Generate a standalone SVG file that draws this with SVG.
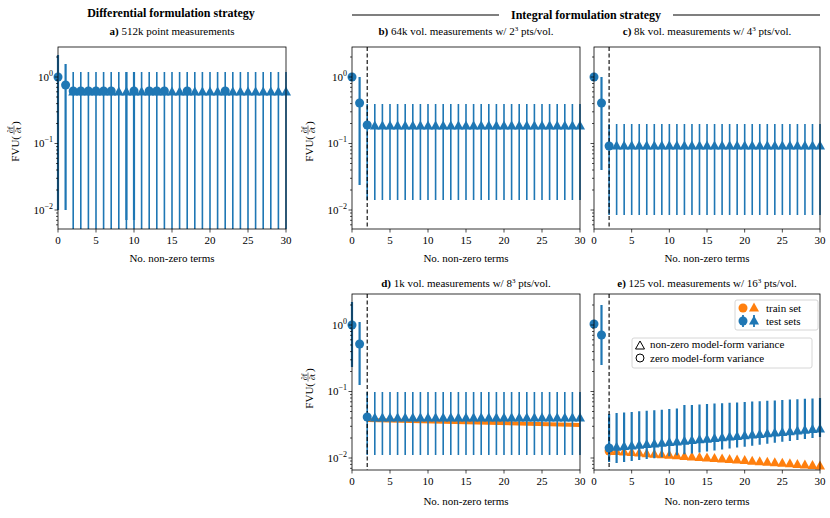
<svg xmlns="http://www.w3.org/2000/svg" width="830" height="518" viewBox="0 0 830 518" font-family="'Liberation Serif','DejaVu Serif',serif">
<style>
text{font-family:"Liberation Serif","DejaVu Serif",serif;font-size:11px;fill:#000}
.t{text-anchor:middle}
.r{text-anchor:end}
.b{font-weight:bold}
.s{font-size:8px}
.ax{fill:none;stroke:#000;stroke-width:0.8}
.tk{fill:none;stroke:#000;stroke-width:0.7}
.eb{stroke:#1f77b4;stroke-width:2.2;fill:none}
.dash{stroke:#000;stroke-width:1.1;stroke-dasharray:4 2.5}
.tri{fill:none;stroke:none;marker-start:url(#mt);marker-mid:url(#mt);marker-end:url(#mt)}
.otri{fill:none;stroke:none;marker-start:url(#mo);marker-mid:url(#mo);marker-end:url(#mo)}
.c{fill:#1f77b4}
</style>
<defs>
<marker id="mt" markerUnits="userSpaceOnUse" overflow="visible" refX="0" refY="0" markerWidth="10" markerHeight="10"><path d="M0,-5.5L5,3.5L-5,3.5Z" fill="#1f77b4"/></marker>
<marker id="mo" markerUnits="userSpaceOnUse" overflow="visible" refX="0" refY="0" markerWidth="10" markerHeight="10"><path d="M0,-5.5L5,3.5L-5,3.5Z" fill="#ff7f0e"/></marker>
<path id="ytb" class="tk" d="M0,77h-3.5M0,143.5h-3.5M0,210h-3.5M0,57h-2M0,80.1h-2M0,83.5h-2M0,87.3h-2M0,91.8h-2M0,97h-2M0,103.6h-2M0,111.8h-2M0,123.5h-2M0,146.6h-2M0,150h-2M0,153.8h-2M0,158.3h-2M0,163.5h-2M0,170h-2M0,178.3h-2M0,190h-2M0,213h-2M0,216.4h-2M0,220.3h-2"/>
<path id="ytt" class="tk" d="M0,224.8h-2"/>
<path id="xt1" class="tk" d="M0,0v3.5M38,0v3.5M76,0v3.5M114,0v3.5M152,0v3.5M190,0v3.5M228,0v3.5"/>
<path id="xt2" class="tk" d="M0,0v3.5M37.67,0v3.5M75.33,0v3.5M113,0v3.5M150.67,0v3.5M188.33,0v3.5M226,0v3.5"/>
<g id="ylab">
<text x="2" y="4" class="r">FVU(</text>
<text x="8" y="-2.5" class="t s">∂f</text>
<line x1="3.5" y1="-1" x2="12.5" y2="-1" stroke="#000" stroke-width="0.5"/>
<text x="8" y="6" class="t s">∂t</text>
<text x="13" y="4">)</text>
</g>
</defs>

<text x="171" y="17" class="t b" style="font-size:12px">Differential formulation strategy</text>
<g id="integral-header">
<line x1="352" y1="15" x2="820" y2="15" stroke="#000" stroke-width="1.2"/>
<rect x="499" y="6" width="174" height="16" fill="#fff"/>
<text x="586" y="19" class="t b" style="font-size:12px">Integral formulation strategy</text>
</g>

<g id="panel-a">
<text x="172" y="35" class="t"><tspan class="b">a)</tspan> 512k point measurements</text>
<path class="eb" d="M58,55V210M65.6,64V210M126.4,72V220M134,72V220"/>
<line x1="72.4" y1="150.5" x2="287" y2="150.5" stroke="#1f77b4" stroke-width="157" stroke-dasharray="1.6 6"/>
<circle class="c" cx="58" cy="77" r="4.5"/><circle class="c" cx="65.6" cy="85" r="4.5"/>
<polyline class="tri" points="73.2,92 80.8,92 88.4,92 96,92 103.6,92 111.2,92 118.8,92 126.4,92 134,92 141.6,92 149.2,92 156.8,92 164.4,92 172,92 179.6,92 187.2,92 194.8,92 202.4,92 210,92 217.6,92 225.2,92 232.8,92 240.4,92 248,92 255.6,92 263.2,92 270.8,92 278.4,92 286,92"/>
<g class="c"><circle cx="73.2" cy="91" r="4.5"/><circle cx="80.8" cy="91" r="4.5"/><circle cx="88.4" cy="91" r="4.5"/><circle cx="96" cy="91" r="4.5"/><circle cx="103.6" cy="91" r="4.5"/><circle cx="111.2" cy="91" r="4.5"/><circle cx="134" cy="91" r="4.5"/><circle cx="149.2" cy="91" r="4.5"/><circle cx="156.8" cy="91" r="4.5"/><circle cx="164.4" cy="91" r="4.5"/><circle cx="187.2" cy="91" r="4.5"/><circle cx="225.2" cy="91" r="4.5"/></g>
<rect class="ax" x="58" y="47" width="228" height="182"/>
<use href="#ytb" x="58"/><use href="#ytt" x="58"/><use href="#xt1" x="58" y="229"/>
<text x="53" y="81" class="r">10<tspan dy="-5" class="s">0</tspan></text>
<text x="53" y="147" class="r">10<tspan dy="-5" class="s">−1</tspan></text>
<text x="53" y="214" class="r">10<tspan dy="-5" class="s">−2</tspan></text>
<g class="t"><text x="58" y="244">0</text><text x="96" y="244">5</text><text x="134" y="244">10</text><text x="172" y="244">15</text><text x="210" y="244">20</text><text x="248" y="244">25</text><text x="286" y="244">30</text></g>
<text x="172" y="262" class="t">No. non-zero terms</text>
<use href="#ylab" transform="translate(15,138) rotate(-90)"/>
</g>

<g id="panel-b">
<text x="466" y="35" class="t"><tspan class="b">b)</tspan> 64k vol. measurements w/ 2<tspan dy="-4" style="font-size:7px">3</tspan><tspan dy="4"> pts/vol.</tspan></text>
<path class="eb" d="M359.6,77V185"/>
<line x1="366.4" y1="152" x2="581" y2="152" stroke="#1f77b4" stroke-width="96" stroke-dasharray="1.6 6"/>
<line class="dash" x1="367.2" y1="47" x2="367.2" y2="229"/>
<circle class="c" cx="352" cy="77" r="4.5"/><circle class="c" cx="359.6" cy="103" r="4.5"/><circle class="c" cx="367.2" cy="125" r="4.5"/>
<polyline class="tri" points="374.8,126 382.4,126 390,126 397.6,126 405.2,126 412.8,126 420.4,126 428,126 435.6,126 443.2,126 450.8,126 458.4,126 466,126 473.6,126 481.2,126 488.8,126 496.4,126 504,126 511.6,126 519.2,126 526.8,126 534.4,126 542,126 549.6,126 557.2,126 564.8,126 572.4,126 580,126"/>
<rect class="ax" x="352" y="47" width="228" height="182"/>
<use href="#ytb" x="352"/><use href="#ytt" x="352"/><use href="#xt1" x="352" y="229"/>
<text x="347" y="81" class="r">10<tspan dy="-5" class="s">0</tspan></text>
<text x="347" y="147" class="r">10<tspan dy="-5" class="s">−1</tspan></text>
<text x="347" y="214" class="r">10<tspan dy="-5" class="s">−2</tspan></text>
<g class="t"><text x="352" y="244">0</text><text x="390" y="244">5</text><text x="428" y="244">10</text><text x="466" y="244">15</text><text x="504" y="244">20</text><text x="542" y="244">25</text><text x="580" y="244">30</text></g>
<text x="466" y="262" class="t">No. non-zero terms</text>
<use href="#ylab" transform="translate(309,138) rotate(-90)"/>
</g>

<g id="panel-c">
<text x="707" y="35" class="t"><tspan class="b">c)</tspan> 8k vol. measurements w/ 4<tspan dy="-4" style="font-size:7px">3</tspan><tspan dy="4"> pts/vol.</tspan></text>
<path class="eb" d="M601.5,77V170"/>
<line x1="608.3" y1="169.5" x2="821" y2="169.5" stroke="#1f77b4" stroke-width="91" stroke-dasharray="1.6 5.933"/>
<line class="dash" x1="609.1" y1="47" x2="609.1" y2="229"/>
<circle class="c" cx="594" cy="77" r="4.5"/><circle class="c" cx="601.5" cy="103" r="4.5"/><circle class="c" cx="609.1" cy="146" r="4.5"/>
<polyline class="tri" points="616.6,146 624.1,146 631.7,146 639.2,146 646.7,146 654.3,146 661.8,146 669.3,146 676.9,146 684.4,146 691.9,146 699.5,146 707,146 714.5,146 722.1,146 729.6,146 737.1,146 744.7,146 752.2,146 759.7,146 767.3,146 774.8,146 782.3,146 789.9,146 797.4,146 804.9,146 812.5,146 820,146"/>
<rect class="ax" x="594" y="47" width="226" height="182"/>
<use href="#ytb" x="594"/><use href="#ytt" x="594"/><use href="#xt2" x="594" y="229"/>
<g class="t"><text x="594" y="244">0</text><text x="631.7" y="244">5</text><text x="669.3" y="244">10</text><text x="707" y="244">15</text><text x="744.7" y="244">20</text><text x="782.3" y="244">25</text><text x="820" y="244">30</text></g>
<text x="707" y="262" class="t">No. non-zero terms</text>
</g>

<g id="panel-d">
<text x="466" y="287" class="t"><tspan class="b">d)</tspan> 1k vol. measurements w/ 8<tspan dy="-4" style="font-size:7px">3</tspan><tspan dy="4"> pts/vol.</tspan></text>
<polyline points="367.2,420 580,425" stroke="#ff7f0e" stroke-width="4" fill="none"/>
<path class="eb" d="M352,302V367M359.6,322V385"/>
<line x1="366.4" y1="423.5" x2="581" y2="423.5" stroke="#1f77b4" stroke-width="63" stroke-dasharray="1.6 6"/>
<line class="dash" x1="367.2" y1="294" x2="367.2" y2="470"/>
<circle class="c" cx="352" cy="325" r="4.5"/><circle class="c" cx="359.6" cy="344" r="4.5"/><circle class="c" cx="367.2" cy="417" r="4.5"/>
<polyline class="tri" points="374.8,418 382.4,418 390,418 397.6,418 405.2,418 412.8,418 420.4,418 428,418 435.6,418 443.2,418 450.8,418 458.4,418 466,418 473.6,418 481.2,418 488.8,418 496.4,418 504,418 511.6,418 519.2,418 526.8,418 534.4,418 542,418 549.6,418 557.2,418 564.8,418 572.4,418 580,418"/>
<rect class="ax" x="352" y="294" width="228" height="176"/>
<use href="#ytb" x="352" y="248"/><use href="#xt1" x="352" y="470"/>
<text x="347" y="329" class="r">10<tspan dy="-5" class="s">0</tspan></text>
<text x="347" y="395" class="r">10<tspan dy="-5" class="s">−1</tspan></text>
<text x="347" y="462" class="r">10<tspan dy="-5" class="s">−2</tspan></text>
<g class="t"><text x="352" y="485">0</text><text x="390" y="485">5</text><text x="428" y="485">10</text><text x="466" y="485">15</text><text x="504" y="485">20</text><text x="542" y="485">25</text><text x="580" y="485">30</text></g>
<text x="466" y="505" class="t">No. non-zero terms</text>
<use href="#ylab" transform="translate(309,385) rotate(-90)"/>
</g>

<g id="panel-e">
<text x="707" y="287" class="t"><tspan class="b">e)</tspan> 125 vol. measurements w/ 16<tspan dy="-4" style="font-size:7px">3</tspan><tspan dy="4"> pts/vol.</tspan></text>
<circle cx="609.1" cy="451" r="4.5" fill="#ff7f0e"/>
<polyline class="otri" points="616.6,451.5 624.1,452.1 631.7,452.6 639.2,453.1 646.7,453.7 654.3,454.2 661.8,454.8 669.3,455.3 676.9,455.8 684.4,456.4 691.9,456.9 699.5,457.4 707,458 714.5,458.5 722.1,459 729.6,459.6 737.1,460.1 744.7,460.6 752.2,461.2 759.7,461.7 767.3,462.2 774.8,462.8 782.3,463.3 789.9,463.8 797.4,464.4 804.9,464.9 812.5,465.5 820,466"/>
<path class="eb" d="M601.5,305V365M609.1,414V462M616.6,413V463M624.1,412.4V462M631.7,411.9V461.1M639.2,411.3V460.1M646.7,410.8V459.1M654.3,410.2V458.2M661.8,409.7V457.2M669.3,409.1V456.3M676.9,408.6V455.3M684.4,405V454.3M691.9,405V453.4M699.5,404.5V452.4M707,404V451.5M714.5,403.6V450.5M722.1,403.2V449.6M729.6,402.8V448.6M737.1,402.4V447.6M744.7,402V446.7M752.2,401.6V445.7M759.7,401.2V444.7M767.3,400.8V443.7M774.8,400.4V442.8M782.3,400V441.8M789.9,399.6V440.9M797.4,399.2V439.9M804.9,398.8V438.9M812.5,398.4V438M820,398V437"/>
<line class="dash" x1="609.1" y1="294" x2="609.1" y2="470"/>
<circle class="c" cx="594" cy="324" r="4.5"/><circle class="c" cx="601.5" cy="335" r="4.5"/><circle class="c" cx="609.1" cy="448" r="4.5"/>
<polyline class="tri" points="616.6,447.3 624.1,446.6 631.7,446 639.2,445.3 646.7,444.6 654.3,443.9 661.8,443.2 669.3,442.6 676.9,441.9 684.4,441.2 691.9,440.5 699.5,439.8 707,439.2 714.5,438.5 722.1,437.8 729.6,437.1 737.1,436.4 744.7,435.8 752.2,435.1 759.7,434.4 767.3,433.7 774.8,433 782.3,432.4 789.9,431.7 797.4,431 804.9,430.3 812.5,429.6 820,429"/>
<rect class="ax" x="594" y="294" width="226" height="176"/>
<use href="#ytb" x="594" y="248"/><use href="#xt2" x="594" y="470"/>
<g class="t"><text x="594" y="485">0</text><text x="631.7" y="485">5</text><text x="669.3" y="485">10</text><text x="707" y="485">15</text><text x="744.7" y="485">20</text><text x="782.3" y="485">25</text><text x="820" y="485">30</text></g>
<text x="707" y="505" class="t">No. non-zero terms</text>
<g id="legend-sets">
<rect x="735" y="300" width="83" height="30" rx="2" fill="#fff" fill-opacity="0.85" stroke="#ccc" stroke-width="0.8"/>
<circle cx="743" cy="308" r="4.5" fill="#ff7f0e"/><path d="M754,302.5L759,311.5L749,311.5Z" fill="#ff7f0e"/>
<text x="766" y="312">train set</text>
<path class="eb" d="M743,315V327M754,315V327" style="stroke-width:1.8"/>
<circle cx="743" cy="321" r="4.5" class="c"/><path d="M754,315.5L759,324.5L749,324.5Z" fill="#1f77b4"/>
<text x="766" y="325">test sets</text>
</g>
<g id="legend-variance">
<rect x="632" y="338" width="180" height="30" rx="2" fill="#fff" fill-opacity="0.85" stroke="#ccc" stroke-width="0.8"/>
<path d="M640,341L644.5,349L635.5,349Z" fill="none" stroke="#000" stroke-width="1"/>
<text x="650" y="348">non-zero model-form variance</text>
<circle cx="640" cy="358" r="4" fill="none" stroke="#000" stroke-width="1"/>
<text x="650" y="362">zero model-form variance</text>
</g>
</g>
</svg>
